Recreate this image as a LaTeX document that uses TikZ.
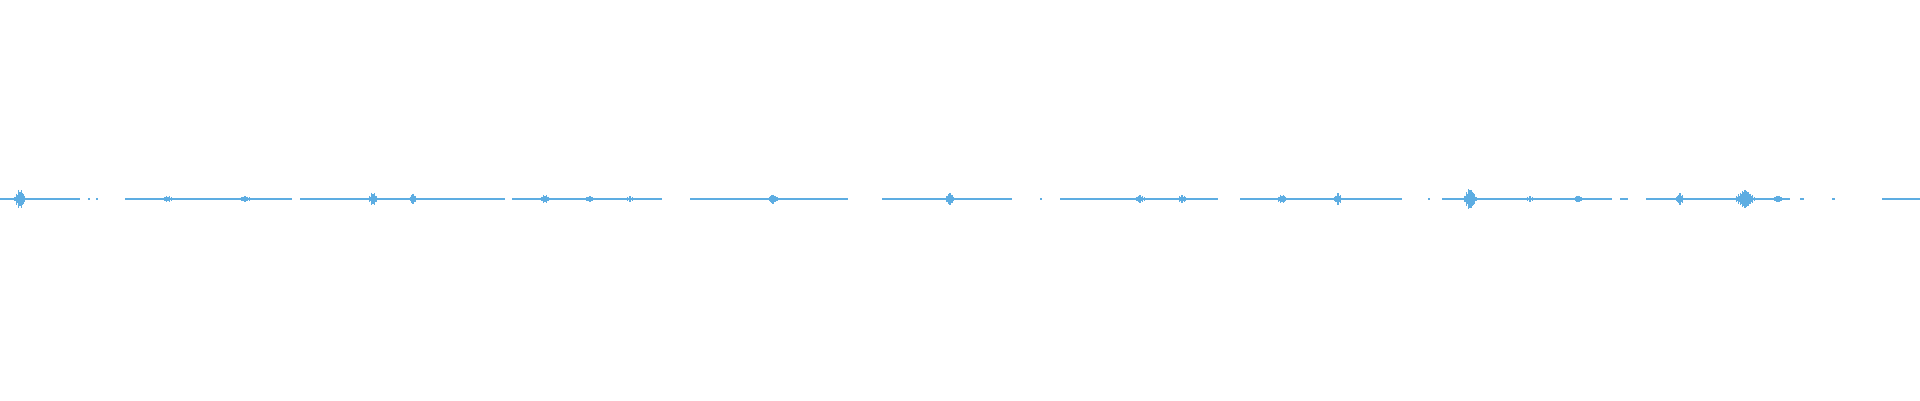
\documentclass[tikz,border=0pt]{standalone}
\definecolor{wave}{HTML}{5DADE2}
\begin{document}
\begin{tikzpicture}[x=1pt,y=-1pt,wv/.style={draw=wave,line width=1.1pt},tk/.style={draw=wave,line width=1.1pt}]
\useasboundingbox (0,0) rectangle (1920,400);
% baseline segments
\foreach \a/\b in {0/80,88/90,96/98,125/292,300/505,512/662,690/848,882/1012,1040/1042,1060/1218,1240/1402,1428/1430,1442/1612,1620/1628,1646/1782,1800/1804,1832/1835,1882/1920}
  \draw[wv] (\a,199) -- (\b,199);
% bursts: center/amplitude/halfwidth
\foreach \c/\A/\w in {20/11/5,168/4/5,245/3/8,373/8/4,413/6/3,545/5/5,590/3/6,630/3/4,773/5/5,950/7/4,1140/4/6,1182/4/5,1282/5/5,1338/6/4,1470/12/6,1530/3/6,1578/4/5,1680/6/4,1745/10/10,1778/4/5}
  \foreach \d in {-10,...,10}{
    \pgfmathsetmacro\h{max(0.6,\A*(1-abs(\d)/(\w+1))*(0.5+0.5*abs(sin(\d*97+\c))))}
    \draw[tk] (\c+\d*1.1,199-\h) -- (\c+\d*1.1,199+\h);
  }
\end{tikzpicture}
\end{document}
